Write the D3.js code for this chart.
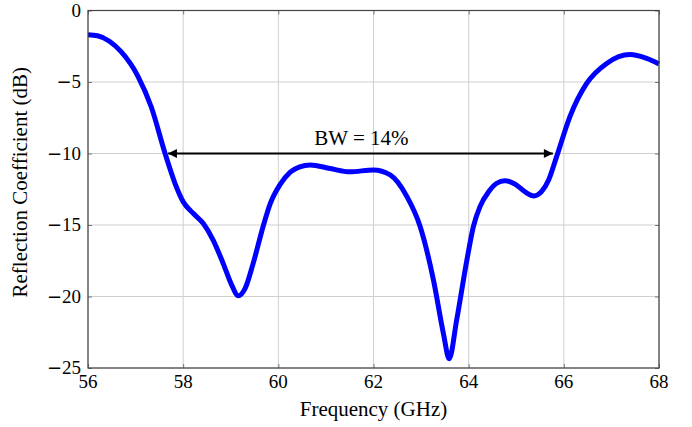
<!DOCTYPE html>
<html>
<head>
<meta charset="utf-8">
<script src="https://cdn.jsdelivr.net/npm/d3@7"></script>
<style>
  body { margin: 0; background: #fff; }
  text { font-family: "Liberation Serif", "DejaVu Serif", serif; fill: #000; }
</style>
</head>
<body>
<svg width="692" height="427"></svg>
<script>
const svg = d3.select("svg");

// Frequency (GHz) and reflection coefficient (dB)
const freq = [56.0, 56.2, 56.45, 56.7, 57.05, 57.33, 57.62, 57.83, 58.0, 58.21,
    58.42, 58.63, 58.84, 59.02, 59.16, 59.30, 59.47, 59.68, 59.83, 60.03,
    60.25, 60.45, 60.67, 61.09, 61.5, 62.0, 62.35, 62.7, 62.98, 63.26,
    63.47, 63.59, 63.75, 63.96, 64.10, 64.24, 64.42, 64.59, 64.76, 64.97,
    65.18, 65.37, 65.53, 65.68, 65.85, 66.13, 66.48, 66.9, 67.39, 67.74, 68.0];
const s11 = [-1.70, -1.77, -2.15, -2.9, -4.6, -6.75, -10.0, -12.1, -13.37, -14.18,
    -14.88, -16.05, -17.68, -19.2, -19.95, -19.45, -17.7, -15.1, -13.5, -12.2,
    -11.3, -10.93, -10.8, -11.05, -11.28, -11.15, -11.5, -13.0, -15.1, -18.85,
    -22.6, -24.35, -21.6, -17.5, -15.1, -13.7, -12.67, -12.08, -11.9, -12.13,
    -12.67, -12.97, -12.67, -11.85, -10.2, -7.4, -5.1, -3.7, -3.08, -3.35, -3.74];

const xTicks = [56, 58, 60, 62, 64, 66, 68];
const yTicks = [0, -5, -10, -15, -20, -25];

// Bandwidth annotation
const bwStart = 57.68;
const bwEnd = 65.77;
const bwLevel = -10;
const bwLabel = "BW = 14%";

const xLabel = "Frequency (GHz)";
const yLabel = "Reflection Coefficient (dB)";

const margin = { left: 88, top: 10.5, right: 33, bottom: 59 };
const width = 692, height = 427;

const x = d3.scaleLinear().domain([56, 68]).range([margin.left, width - margin.right]);
const y = d3.scaleLinear().domain([-25, 0]).range([height - margin.bottom, margin.top]);

const data = freq.map((f, i) => ({ f: f, v: s11[i] }));

// Grid lines
svg.append("g").selectAll("line").data(xTicks)
    .enter().append("line")
    .attr("x1", d => x(d)).attr("x2", d => x(d))
    .attr("y1", y(-25)).attr("y2", y(0))
    .attr("stroke", "#cfcfcf").attr("stroke-width", 1);

svg.append("g").selectAll("line").data(yTicks)
    .enter().append("line")
    .attr("x1", x(56)).attr("x2", x(68))
    .attr("y1", d => y(d)).attr("y2", d => y(d))
    .attr("stroke", "#cfcfcf").attr("stroke-width", 1);

// Inside ticks, pgfplots style
const xAxis = d3.axisBottom(x).tickValues(xTicks).tickSizeInner(-4).tickSizeOuter(0).tickFormat("");
const xAxisTop = d3.axisTop(x).tickValues(xTicks).tickSizeInner(-4).tickSizeOuter(0).tickFormat("");
const yAxis = d3.axisLeft(y).tickValues(yTicks).tickSizeInner(-4).tickSizeOuter(0).tickFormat("");
const yAxisRight = d3.axisRight(y).tickValues(yTicks).tickSizeInner(-4).tickSizeOuter(0).tickFormat("");

[[xAxis, `translate(0,${y(-25)})`], [xAxisTop, `translate(0,${y(0)})`],
 [yAxis, `translate(${x(56)},0)`], [yAxisRight, `translate(${x(68)},0)`]].forEach(([ax, tr]) => {
    const g = svg.append("g").attr("transform", tr).call(ax);
    g.select(".domain").remove();
    g.selectAll("line").attr("stroke", "#777");
});

// Curve
const line = d3.line()
    .x(d => x(d.f))
    .y(d => y(d.v))
    .curve(d3.curveMonotoneX);

svg.append("path")
    .datum(data)
    .attr("d", line)
    .attr("fill", "none")
    .attr("stroke", "#0000ff")
    .attr("stroke-width", 5)
    .attr("stroke-linejoin", "round");

// Frame
svg.append("rect")
    .attr("x", x(56)).attr("y", y(0))
    .attr("width", x(68) - x(56)).attr("height", y(-25) - y(0))
    .attr("fill", "none").attr("stroke", "#444").attr("stroke-width", 1.2);

// Tick labels
svg.append("g").selectAll("text").data(xTicks)
    .enter().append("text")
    .attr("x", d => x(d)).attr("y", y(-25) + 20)
    .attr("text-anchor", "middle")
    .attr("font-size", 19)
    .text(d => d);

const yLabels = svg.append("g").selectAll("text").data(yTicks)
    .enter().append("text")
    .attr("x", x(56) - 7).attr("y", d => y(d) + 6)
    .attr("text-anchor", "end")
    .attr("font-size", 19);
yLabels.filter(d => d < 0).append("tspan")
    .attr("font-family", "DejaVu Sans")
    .attr("font-size", 18)
    .text("\u2212");
yLabels.append("tspan").text(d => Math.abs(d));

// Axis labels
svg.append("text")
    .attr("x", (x(56) + x(68)) / 2).attr("y", 416)
    .attr("text-anchor", "middle")
    .attr("font-size", 21)
    .text(xLabel);

svg.append("text")
    .attr("transform", `translate(27,${(y(0) + y(-25)) / 2 - 7}) rotate(-90)`)
    .attr("text-anchor", "middle")
    .attr("font-size", 21)
    .text(yLabel);

// Bandwidth arrow
const defs = svg.append("defs");
defs.append("marker")
    .attr("id", "head")
    .attr("viewBox", "0 0 10 10")
    .attr("refX", 10).attr("refY", 5)
    .attr("markerWidth", 5).attr("markerHeight", 4.5)
    .attr("markerUnits", "strokeWidth")
    .attr("orient", "auto-start-reverse")
    .append("path")
    .attr("d", "M0,0 L10,5 L0,10 Z")
    .attr("fill", "#000");

svg.append("line")
    .attr("x1", x(bwStart)).attr("x2", x(bwEnd))
    .attr("y1", y(bwLevel)).attr("y2", y(bwLevel))
    .attr("stroke", "#000").attr("stroke-width", 2)
    .attr("marker-start", "url(#head)")
    .attr("marker-end", "url(#head)");

svg.append("text")
    .attr("x", x((bwStart + bwEnd) / 2) + 1).attr("y", y(bwLevel) - 9)
    .attr("text-anchor", "middle")
    .attr("font-size", 21)
    .text(bwLabel);
</script>
</body>
</html>
